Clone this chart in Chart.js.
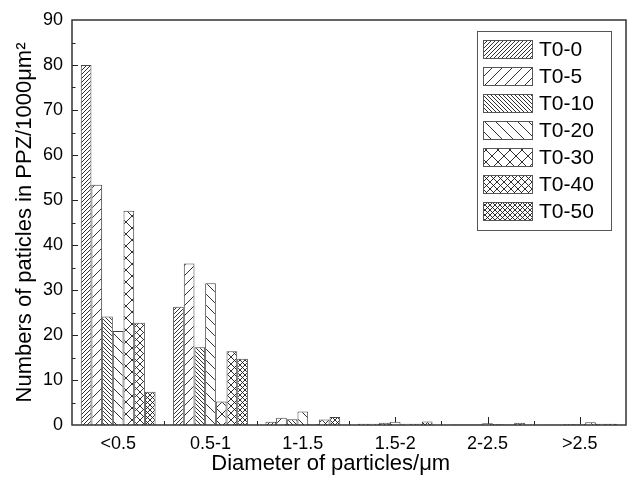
<!DOCTYPE html>
<html>
<head>
<meta charset="utf-8">
<script src="https://cdn.jsdelivr.net/npm/chart.js@4.4.0/dist/chart.umd.min.js"></script>
<style>
html, body { margin: 0; padding: 0; background: #fff; }
</style>
</head>
<body>
<canvas id="myChart" width="631" height="480"></canvas>
<script>
const categories = ["<0.5", "0.5-1", "1-1.5", "1.5-2", "2-2.5", ">2.5"];
const seriesNames = ["T0-0", "T0-5", "T0-10", "T0-20", "T0-30", "T0-40", "T0-50"];
const t0_0 = [80.0, 26.3, 0.7, 0.3, 0.1, 0.05];
const t0_5 = [53.4, 35.9, 1.6, 0.3, 0.1, 0.05];
const t0_10 = [24.1, 17.3, 1.3, 0.5, 0.1, 0.2];
const t0_20 = [20.9, 31.5, 3.0, 0.7, 0.4, 0.2];
const t0_30 = [47.6, 5.2, 0.2, 0.3, 0.2, 0.6];
const t0_40 = [22.7, 16.4, 1.2, 0.3, 0.1, 0.3];
const t0_50 = [7.4, 14.7, 1.8, 0.8, 0.5, 0.3];
const allSeries = [t0_0, t0_5, t0_10, t0_20, t0_30, t0_40, t0_50];
const yMax = 90;
const yStep = 10;

const canvas = document.getElementById("myChart");
const ctx = canvas.getContext("2d");

// hatch fills: spacing in px, "/" "\" or both
function hatch(s, dirs) {
    const c = document.createElement("canvas");
    c.width = s;
    c.height = s;
    const g = c.getContext("2d");
    g.fillStyle = "#fff";
    g.fillRect(0, 0, s, s);
    g.strokeStyle = "#1a1a1a";
    g.lineWidth = 0.9;
    g.beginPath();
    if (dirs.includes("/")) {
        g.moveTo(-1, s + 1); g.lineTo(s + 1, -1);
        g.moveTo(-1, 1); g.lineTo(1, -1);
        g.moveTo(s - 1, s + 1); g.lineTo(s + 1, s - 1);
    }
    if (dirs.includes("\\")) {
        g.moveTo(-1, -1); g.lineTo(s + 1, s + 1);
        g.moveTo(s - 1, -1); g.lineTo(s + 1, 1);
        g.moveTo(-1, s - 1); g.lineTo(1, s + 1);
    }
    g.stroke();
    return ctx.createPattern(c, "repeat");
}

const fills = [
    hatch(4, "/"),
    hatch(10, "/"),
    hatch(4, "\\"),
    hatch(11, "\\"),
    hatch(12, "/\\"),
    hatch(7, "/\\"),
    hatch(5, "/\\")
];

const fontFamily = "'Liberation Sans', Arial, sans-serif";

const frameTicks = {
    id: "frameTicks",
    beforeDatasetsDraw(chart) {
        const { ctx, chartArea: a, scales: { x, y } } = chart;
        ctx.save();
        ctx.strokeStyle = "#222";
        ctx.lineWidth = 1;
        ctx.beginPath();
        for (let i = 0; i < categories.length; i++) {
            const px = Math.round(x.getPixelForValue(i)) + 0.5;
            ctx.moveTo(px, a.bottom);
            ctx.lineTo(px, a.bottom - 8);
            if (i > 0) {
                const bx = Math.round((x.getPixelForValue(i - 1) + x.getPixelForValue(i)) / 2) + 0.5;
                ctx.moveTo(bx, a.bottom);
                ctx.lineTo(bx, a.bottom - 4);
            }
        }
        for (let v = 5; v < yMax; v += 5) {
            const py = Math.round(y.getPixelForValue(v)) + 0.5;
            ctx.moveTo(a.left, py);
            ctx.lineTo(a.left + (v % 10 === 0 ? 6 : 3.5), py);
        }
        ctx.stroke();
        ctx.restore();
    },
    afterDatasetsDraw(chart) {
        const { ctx, chartArea: a } = chart;
        ctx.save();
        ctx.strokeStyle = "#333";
        ctx.lineWidth = 1.5;
        ctx.strokeRect(a.left, a.top, a.right - a.left, a.bottom - a.top);

        // legend box
        const bw = 134, bh = 199;
        const bx = a.right - 15 - bw, by = a.top + 11;
        ctx.fillStyle = "#fff";
        ctx.fillRect(bx, by, bw, bh);
        ctx.strokeStyle = "#555";
        ctx.lineWidth = 1;
        ctx.strokeRect(bx + 0.5, by + 0.5, bw, bh);
        ctx.font = "21px " + fontFamily;
        ctx.textBaseline = "middle";
        ctx.textAlign = "left";
        chart.data.datasets.forEach((ds, i) => {
            const sx = bx + 6, sy = by + 9 + i * 27;
            ctx.fillStyle = ds.backgroundColor;
            ctx.fillRect(sx, sy, 49, 18);
            ctx.strokeStyle = "#555";
            ctx.strokeRect(sx + 0.5, sy + 0.5, 49, 18);
            ctx.fillStyle = "#000";
            ctx.fillText(ds.label, bx + 62, sy + 10);
        });

        // x axis title, set a little left of centre as in the original
        ctx.font = "22px " + fontFamily;
        ctx.textAlign = "center";
        ctx.fillStyle = "#000";
        ctx.fillText("Diameter of particles/\u03bcm", a.left + (a.right - a.left) * 0.467, 464);
        ctx.restore();
    }
};

const datasets = seriesNames.map((name, i) => ({
    label: name,
    data: allSeries[i],
    backgroundColor: fills[i],
    borderColor: "#444",
    borderWidth: 1,
    categoryPercentage: 0.81,
    barPercentage: 1.0
}));

const tickFont = { family: fontFamily, size: 18 };
const titleFont = { family: fontFamily, size: 22 };

new Chart(ctx, {
    type: "bar",
    data: { labels: categories, datasets: datasets },
    options: {
        responsive: false,
        animation: false,
        layout: { padding: { top: 20, right: 5, left: 0, bottom: 0 } },
        plugins: {
            legend: { display: false },
            tooltip: { enabled: false }
        },
        scales: {
            x: {
                grid: { display: false, drawTicks: false },
                border: { display: false },
                ticks: { font: tickFont, color: "#000", padding: 8, maxRotation: 0 },
                afterFit(scale) { scale.height = 55; }
            },
            y: {
                min: 0,
                max: yMax,
                grid: { display: false, drawTicks: false },
                border: { display: false },
                ticks: { stepSize: yStep, font: tickFont, color: "#000", padding: 9 },
                title: {
                    display: true,
                    text: "Numbers of paticles in PPZ/1000\u03bcm\u00b2",
                    font: titleFont,
                    color: "#000",
                    padding: { top: 12, bottom: 0 }
                },
                afterFit(scale) { scale.width = 72; }
            }
        }
    },
    plugins: [frameTicks]
});
</script>
</body>
</html>
